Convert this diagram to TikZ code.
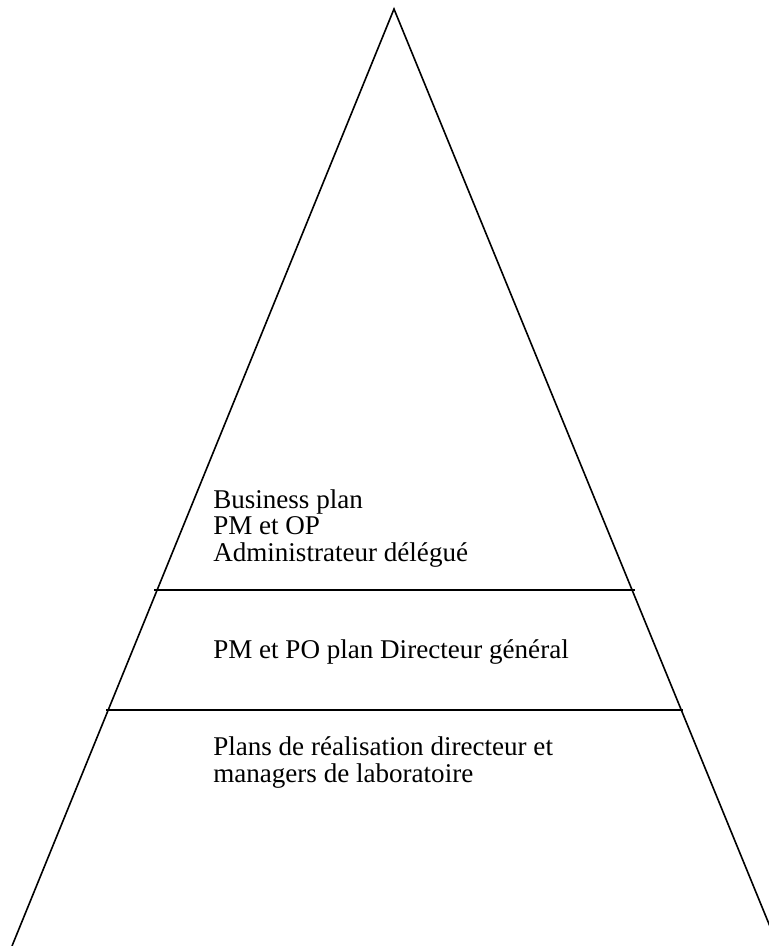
\documentclass[tikz,border=0pt]{standalone}
\usepackage{fontspec}
\setmainfont{Liberation Serif}
\usetikzlibrary{positioning}

\begin{document}
\begin{tikzpicture}[x=0.75pt,y=-0.75pt]
  \tikzset{side/.style={line width=1.2pt},
           level/.style={font=\fontsize{20.3}{19.8}\selectfont, align=left,
                         inner sep=0pt, anchor=base west}}
  \useasboundingbox (0,0) rectangle (768,946);

  \coordinate (apex) at (394,9);
  \coordinate (base_l) at (12,946);
  \coordinate (base_r) at (778,946);

  \coordinate (cut1_l) at (154,590);
  \coordinate (cut1_r) at (635,590);
  \coordinate (cut2_l) at (106,710);
  \coordinate (cut2_r) at (683,710);

  %==================================================

  \draw[side] (base_l) -- (apex) -- (base_r);
  \draw[side] (cut1_l) -- (cut1_r);
  \draw[side] (cut2_l) -- (cut2_r);

  %==================================================

  \node[level] (top_txt) at (213,561) {Business plan\\PM et OP\\Administrateur délégué};
  \node[level] (mid_txt) at (213,658) {PM et PO plan Directeur général};
  \node[level] (low_txt) at (213,782) {Plans de réalisation directeur et\\managers de laboratoire};

\end{tikzpicture}
\end{document}
